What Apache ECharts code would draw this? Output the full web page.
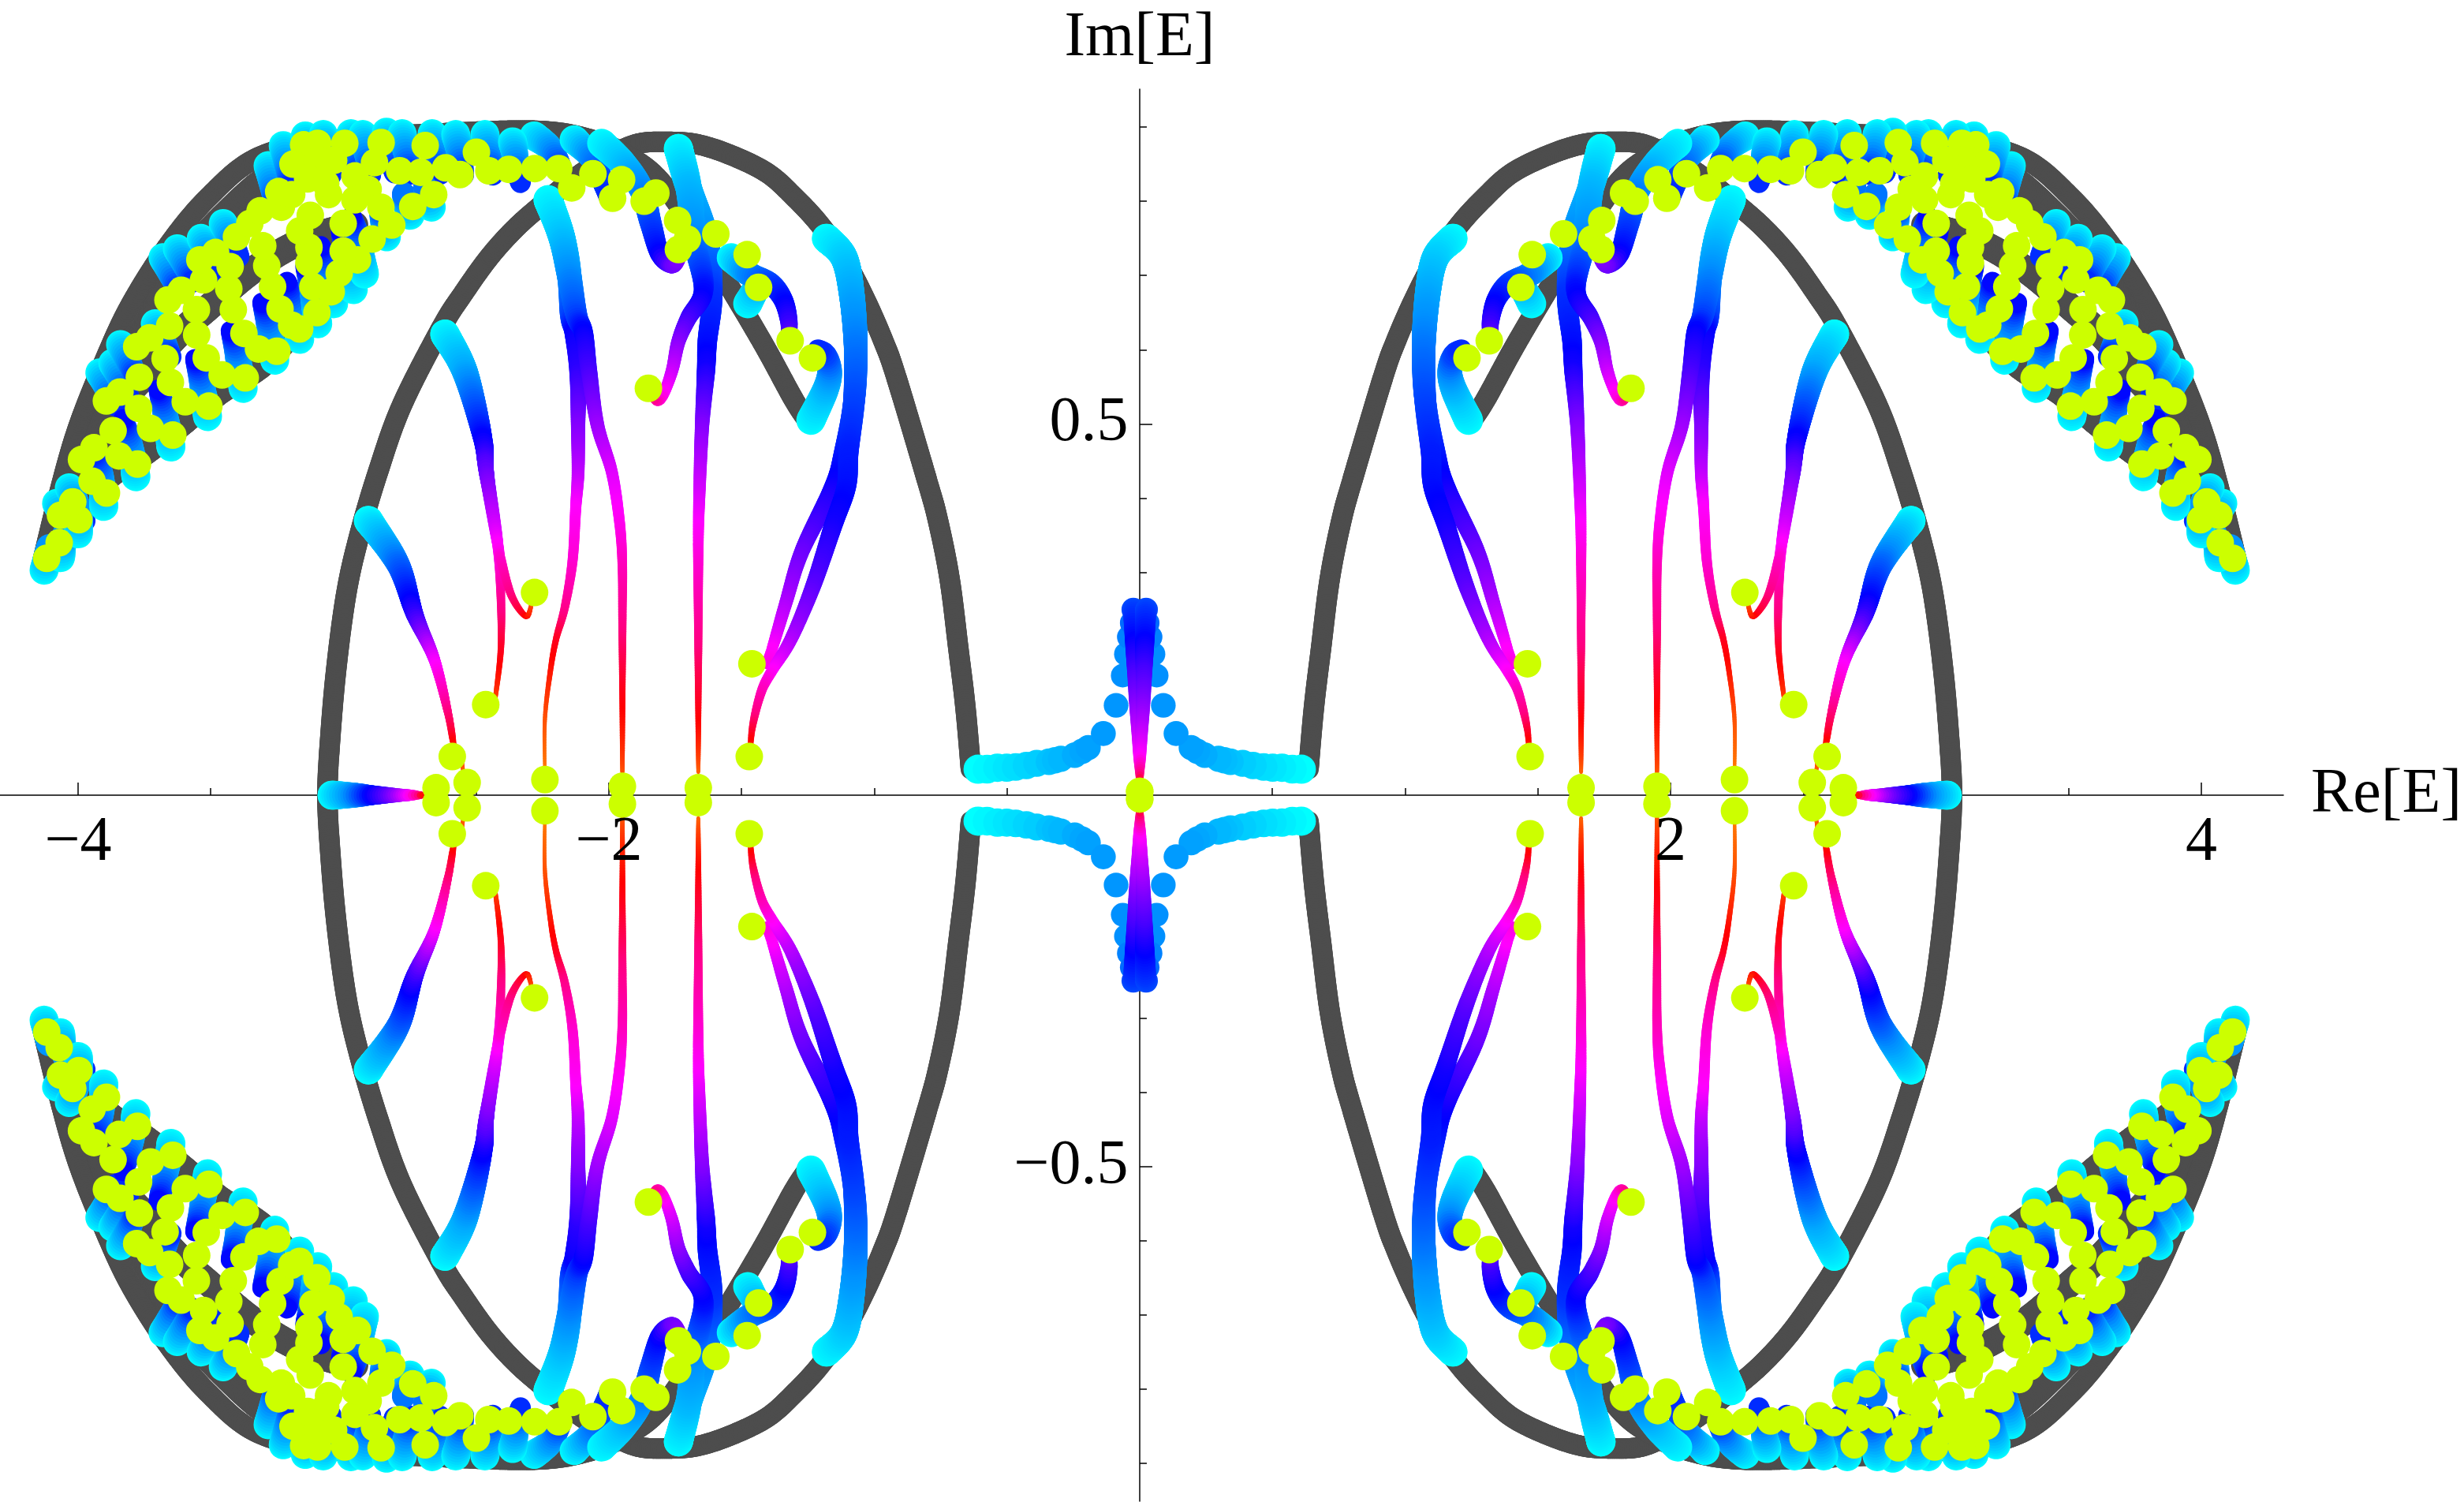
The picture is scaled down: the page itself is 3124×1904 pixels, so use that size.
<!DOCTYPE html>
<html><head><meta charset="utf-8">
<style>html,body{margin:0;padding:0;background:#fff}#c{width:3124px;height:1904px}</style>
<script src="https://cdn.jsdelivr.net/npm/echarts@6/dist/echarts.min.js"></script>
</head><body><div id="c"></div>
<script>
const xMajor=[-4,-2,2,4];
const xMinor=[-3.5,-3,-2.5,-1.5,-1,-0.5,0.5,1,1.5,2.5,3,3.5];
const yMajor=[-0.5,0.5];
const yMinor=[-0.9,-0.8,-0.7,-0.6,-0.4,-0.3,-0.2,-0.1,0.1,0.2,0.3,0.4,0.6,0.7,0.8,0.9];
const innerArc=[[-3.061,0],[-3.055,.05],[-3.03,.16],[-2.99,.27],[-2.94,.35],[-2.87,.435],[-2.78,.525],[-2.63,.63],[-2.550,.675],[-2.452,.724],[-2.354,.763],[-2.253,.795],[-2.125,.832],[-2.006,.859],[-1.896,.877],[-1.789,.880],[-1.670,.877],[-1.539,.862],[-1.403,.838],[-1.302,.806],[-1.204,.768],[-1.114,.722],[-1.036,.669],[-.966,.612],[-.917,.563],[-.802,.425],[-.76,.37],[-.716,.291],[-.683,.197],[-.657,.12],[-.636,.035]];
const outerArc=[[-4.134,.315],[-4.071,.407],[-4.003,.492],[-3.911,.576],[-3.807,.657],[-3.661,.740],[-3.507,.806],[-3.322,.859],[-3.046,.882],[-2.660,.891],[-2.273,.895],[-2.065,.883],[-1.932,.862],[-1.813,.830],[-1.679,.763],[-1.539,.681],[-1.412,.604],[-1.302,.532],[-1.248,.503]];
const backArc1=[[-4.071,.349],[-3.908,.423],[-3.738,.465],[-3.611,.501],[-3.471,.543],[-3.313,.579],[-3.189,.625],[-3.076,.662]];
const backArc2=[[-3.938,.434],[-3.869,.515],[-3.759,.561],[-3.640,.614],[-3.492,.662],[-3.349,.705],[-3.215,.736],[-3.085,.756],[-2.957,.768]];
const backArc3=[[-3.997,.391],[-3.929,.476],[-3.837,.560],[-3.730,.641],[-3.596,.721],[-3.438,.784],[-3.269,.835],[-3.076,.859]];
// curves: [Re, Im, parameter] with parameter running 0 (cyan end) to 1 (orange end)
const curveA1=[[-2.229,.802,0],[-2.178,.752,.1],[-2.149,.699,.2],[-2.143,.646,.3],[-2.131,.622,.4],[-2.116,.569,.45],[-2.116,.497,.55],[-2.116,.434,.62],[-2.125,.386,.7],[-2.137,.315,.75],[-2.166,.253,.83],[-2.199,.210,.9],[-2.220,.168,.93],[-2.241,.102,.97],[-2.241,.026,1]];
const curveA2=[[-2.229,.802,0],[-2.178,.752,.1],[-2.149,.699,.2],[-2.122,.646,.3],[-2.095,.622,.4],[-2.074,.569,.48],[-2.042,.497,.58],[-1.988,.434,.66],[-1.958,.362,.72],[-1.949,.306,.78],[-1.949,.243,.83],[-1.949,.149,.9],[-1.949,.031,.97]];
const curveB1=[[-1.738,.871,0],[-1.700,.819,.12],[-1.679,.752,.2],[-1.643,.681,.38],[-1.700,.643,.47],[-1.738,.611,.55],[-1.762,.572,.63],[-1.798,.537,.72],[-1.822,.531,.8],[-1.845,.543,.9]];
const curveB2=[[-1.738,.871,0],[-1.700,.819,.12],[-1.634,.752,.2],[-1.611,.675,.33],[-1.629,.611,.38],[-1.634,.572,.42],[-1.649,.497,.55],[-1.658,.416,.64],[-1.663,.339,.72],[-1.663,.197,.85],[-1.663,.031,.98]];
const curveC1=[[-2.027,.878,0],[-1.947,.851,.1],[-1.878,.816,.2],[-1.842,.770,.3],[-1.807,.728,.4],[-1.762,.713,.52],[-1.738,.721,.55]];
const curveC2=[[-2.131,.883,0],[-2.065,.859,.2],[-2.027,.830,.3],[-2.000,.806,.35]];
const curveC3=[[-2.282,.888,0],[-2.223,.872,.15],[-2.184,.848,.3]];
const curveD1=[[-1.539,.724,0],[-1.471,.702,.2],[-1.391,.689,.3],[-1.343,.667,.38],[-1.322,.639,.45],[-1.322,.620,.5]];
const curveD2=[[-1.477,.662,0],[-1.441,.685,.12]];
const curveE=[[-1.239,.505,0],[-1.183,.547,.12],[-1.168,.572,.2],[-1.183,.593,.3],[-1.212,.600,.35]];
const curveF1=[[-1.180,.750,0],[-1.114,.724,.08],[-1.085,.675,.15],[-1.070,.604,.23],[-1.076,.532,.3],[-1.114,.462,.36],[-1.153,.416,.41],[-1.272,.329,.52],[-1.334,.258,.6],[-1.385,.197,.7],[-1.406,.177,.73]];
const curveF2=[[-1.180,.750,0],[-1.114,.724,.08],[-1.085,.675,.15],[-1.070,.604,.23],[-1.076,.532,.3],[-1.097,.462,.36],[-1.105,.416,.38],[-1.156,.362,.42],[-1.230,.282,.5],[-1.314,.210,.6],[-1.385,.168,.7],[-1.426,.139,.78],[-1.459,.092,.88],[-1.468,.054,.97]];
const curveG1=[[-2.618,.621,0],[-2.541,.569,.15],[-2.475,.480,.4],[-2.461,.434,.52],[-2.419,.339,.7],[-2.407,.268,.82],[-2.407,.197,.9],[-2.428,.130,.96]];
const curveG2=[[-2.618,.621,0],[-2.541,.569,.15],[-2.475,.480,.4],[-2.461,.434,.52],[-2.419,.339,.7],[-2.407,.317,.76],[-2.366,.268,.85],[-2.312,.241,.92],[-2.291,.258,.97]];
const curveH1=[[-2.906,.370,0],[-2.793,.310,.25],[-2.731,.243,.45],[-2.657,.182,.68],[-2.606,.111,.85],[-2.585,.068,.93],[-2.591,.049,.97]];
const curveH2=[[-2.906,.370,0],[-2.793,.310,.25],[-2.731,.243,.45],[-2.657,.182,.68],[-2.606,.111,.85],[-2.585,.068,.93],[-2.559,.054,.95],[-2.544,.016,1]];
const curveI=[[-3.043,0,0],[-2.957,0,.2],[-2.886,0,.4],[-2.808,0,.55],[-2.749,0,.7],[-2.698,0,.95]];
const stem=[[-.023,.250,.3],[-.019,.205,.4],[-.016,.165,.48],[-.013,.124,.55],[-.007,.083,.63],[-.003,.051,.7],[-.001,.027,.85],[0,.002,1]];
const lowerPetals=[
[[-4.128,.303,0],[-4.110,.335,.2]],
[[-4.066,.320,0],[-4.050,.352,.2]],
[[-3.999,.352,0],[-3.990,.385,.2]],
[[-3.903,.389,0],[-3.915,.435,.2],[-3.940,.460,.35]],
[[-3.782,.429,0],[-3.806,.477,.2],[-3.830,.507,.4]],
[[-3.650,.469,0],[-3.674,.517,.2],[-3.698,.547,.4]],
[[-3.512,.510,0],[-3.536,.558,.2],[-3.560,.588,.4]],
[[-3.378,.548,0],[-3.402,.596,.2],[-3.426,.626,.4]],
[[-3.259,.586,0],[-3.283,.634,.2],[-3.307,.664,.4]],
[[-3.165,.614,0],[-3.189,.662,.2],[-3.213,.692,.4]],
[[-3.097,.635,0],[-3.121,.683,.2],[-3.145,.713,.4]],
[[-3.037,.662,0],[-3.061,.710,.2],[-3.085,.740,.4]],
[[-2.963,.681,0],[-2.987,.729,.2],[-3.011,.759,.4]],
[[-2.921,.702,0],[-2.945,.750,.2],[-2.969,.780,.4]],
[[-2.838,.752,0],[-2.862,.790,.3]],
[[-2.749,.781,0],[-2.773,.810,.25]],
[[-2.669,.792,0],[-2.693,.820,.25]]];
const upperPetals=[
[[-4.081,.393,0],[-4.021,.348,.35]],
[[-4.033,.414,0],[-3.973,.369,.35]],
[[-3.918,.569,0],[-3.858,.524,.35]],
[[-3.869,.582,0],[-3.809,.537,.35]],
[[-3.840,.607,0],[-3.780,.562,.35]],
[[-3.709,.635,0],[-3.649,.590,.35]],
[[-3.680,.724,0],[-3.620,.679,.35]],
[[-3.626,.736,0],[-3.566,.691,.35]],
[[-3.536,.750,0],[-3.476,.705,.35]],
[[-3.453,.770,0],[-3.393,.725,.35]],
[[-3.284,.848,0],[-3.254,.793,.35]],
[[-3.227,.875,0],[-3.197,.820,.35]],
[[-3.144,.888,0],[-3.114,.833,.35]],
[[-3.076,.890,0],[-3.046,.835,.35]],
[[-2.972,.891,0],[-2.942,.836,.35]],
[[-2.927,.890,0],[-2.897,.835,.35]],
[[-2.838,.893,0],[-2.808,.838,.35]],
[[-2.779,.891,0],[-2.749,.836,.35]],
[[-2.666,.891,0],[-2.636,.836,.35]],
[[-2.577,.890,0],[-2.547,.835,.35]],
[[-2.467,.890,0],[-2.437,.835,.35]],
[[-2.363,.880,0],[-2.333,.825,.35]]];
const crossDots=[[-.609,.035,0],[-.575,.035,.015],[-.536,.037,.03],[-.501,.037,.045],[-.467,.038,.06],[-.427,.040,.075],[-.388,.043,.09],[-.342,.045,.11],[-.319,.047,.12],[-.297,.049,.13],[-.245,.054,.15],[-.217,.059,.16],[-.194,.064,.17],[-.137,.083,.18],[-.089,.121,.19],[-.064,.161,.2],[-.052,.190,.2],[-.041,.213,.22],[-.030,.232,.25],[-.024,.250,.3]];
const endpoints=[[-4.118,.319],[-4.071,.340],[-4.066,.377],[-3.997,.371],[-4.020,.395],[-3.947,.423],[-3.893,.407],[-3.987,.452],[-3.940,.468],[-3.868,.491],[-3.846,.457],[-3.776,.446],[-3.893,.531],[-3.842,.543],[-3.769,.563],[-3.772,.521],[-3.727,.494],[-3.643,.485],[-3.652,.556],[-3.596,.530],[-3.507,.524],[-3.672,.588],[-3.779,.604],[-3.730,.616],[-3.655,.632],[-3.517,.589],[-3.457,.566],[-3.370,.562],[-3.553,.620],[-3.554,.654],[-3.415,.654],[-3.375,.622],[-3.320,.601],[-3.251,.598],[-3.239,.655],[-3.195,.633],[-3.661,.667],[-3.611,.680],[-3.527,.694],[-3.432,.682],[-3.267,.685],[-3.165,.628],[-3.100,.650],[-3.115,.685],[-3.046,.678],[-3.016,.703],[-2.947,.721],[-3.001,.733],[-3.130,.717],[-3.130,.738],[-3.165,.760],[-3.289,.713],[-3.304,.740],[-3.427,.712],[-3.482,.731],[-3.541,.721],[-3.403,.752],[-3.353,.770],[-3.314,.787],[-3.234,.792],[-3.125,.781],[-3.001,.770],[-2.892,.749],[-2.818,.768],[-2.739,.793],[-3.150,.876],[-3.097,.878],[-2.995,.878],[-2.858,.879],[-2.692,.875],[-3.190,.850],[-3.244,.813],[-3.100,.855],[-3.037,.855],[-2.883,.852],[-2.957,.834],[-2.788,.841],[-2.709,.839],[-2.615,.845],[-2.561,.836],[-2.499,.866],[-2.452,.841],[-2.377,.843],[-2.279,.844],[-2.189,.844],[-2.660,.809],[-3.056,.809],[-3.135,.830],[-3.195,.809],[-2.907,.816],[-2.859,.792],[-2.957,.802],[-3.067,.824],[-2.140,.818],[-2.060,.837],[-1.952,.829],[-1.986,.804],[-1.823,.811],[-1.867,.800],[-1.741,.774],[-1.704,.749],[-1.738,.735],[-1.597,.756],[-1.479,.728],[-1.436,.684],[-1.317,.612],[-1.233,.589],[-1.851,.548],[-2.280,.273],[-2.464,.122],[-1.461,.177],[-1.471,.052],[-2.590,.052],[-2.534,.017],[-2.651,.010],[-2.241,.021],[-1.949,.012],[-1.663,.010],[0,.005]];

const flips=[[1,1],[-1,1],[1,-1],[-1,-1]];
const flip=(p,f)=>{const q=p.slice();q[0]=p[0]*f[0];q[1]=p[1]*f[1];return q;};
const curveList=[curveI,curveH1,curveH2,curveG1,curveG2,curveA1,curveA2,curveB2,curveB1,curveF1,curveF2,curveE,curveD2,curveD1,curveC3,curveC2,curveC1,...upperPetals,...lowerPetals,stem];
const curveRows=[];let cid=0;
flips.forEach(f=>curveList.forEach(c=>{cid++;c.forEach(p=>{const q=flip(p,f);curveRows.push([q[0],q[1],q[2],cid]);});}));
const arcRows=[];
flips.forEach(f=>[[innerArc,-1],[outerArc,-1],[backArc1,-2],[backArc2,-2],[backArc3,-2]].forEach(([c,k])=>{cid++;c.forEach(p=>{const q=flip(p,f);arcRows.push([q[0],q[1],k,cid]);});}));
const dotRows=[];flips.forEach(f=>crossDots.forEach(p=>dotRows.push(flip(p,f))));
const lemonRows=[];flips.forEach(f=>endpoints.forEach(p=>lemonRows.push(flip(p,f))));
const xTickRows=xMajor.map(v=>[v,0]);
const yTickRows=yMajor.map(v=>[0,v]);

const colorStops=[[0,[0,255,255]],[.2,[0,144,255]],[.4,[0,0,255]],[.55,[128,0,255]],[.7,[255,0,255]],[.85,[255,0,128]],[.92,[255,0,0]],[1,[255,128,0]]];
const sizeStops=[[0,37],[.2,31],[.4,24],[.55,18],[.7,14],[.85,10],[.9,8],[1,4]];
function lerpStops(st,w){for(let i=1;i<st.length;i++){if(w<=st[i][0]){const t=(w-st[i-1][0])/(st[i][0]-st[i-1][0]);return [st[i-1][1],st[i][1],t];}}const l=st[st.length-1][1];return [l,l,0];}
function colorOf(w){if(w<0)return '#4d4d4d';const [a,b,t]=lerpStops(colorStops,w);return 'rgb('+a.map((v,i)=>Math.round(v+(b[i]-v)*t)).join(',')+')';}
function sizeOf(w){if(w<0)return w<-1.5?34:26;const [a,b,t]=lerpStops(sizeStops,w);return a+(b-a)*t;}

function renderCurve(params,api){
  const i=params.dataIndexInside,n=params.dataInsideLength;
  const cur=api.value(3,i);
  if(i+1>=n||api.value(3,i+1)!==cur) return {type:'group',children:[]};
  const pt=k=>api.coord([api.value(0,k),api.value(1,k)]);
  const p1=pt(i),p2=pt(i+1);
  const p0=(i>0&&api.value(3,i-1)===cur)?pt(i-1):p1;
  const p3=(i+2<n&&api.value(3,i+2)===cur)?pt(i+2):p2;
  const w1=api.value(2,i),w2=api.value(2,i+1);
  const len=Math.hypot(p2[0]-p1[0],p2[1]-p1[1]);
  const steps=Math.max(2,Math.ceil(len/3));
  const kids=[];let prev=p1;
  for(let s=1;s<=steps;s++){
    const t=s/steps,t2=t*t,t3=t2*t;
    const q=[0,1].map(d=>.5*(2*p1[d]+(p2[d]-p0[d])*t+(2*p0[d]-5*p1[d]+4*p2[d]-p3[d])*t2+(3*p1[d]-p0[d]-3*p2[d]+p3[d])*t3));
    const w=w1+(w2-w1)*(t-.5/steps);
    kids.push({type:'line',silent:true,shape:{x1:prev[0],y1:prev[1],x2:q[0],y2:q[1]},style:{stroke:colorOf(w),lineWidth:sizeOf(w),lineCap:'round'}});
    prev=q;
  }
  return {type:'group',children:kids};
}

const serif='"Liberation Serif","DejaVu Serif",serif';
const xRange={min:-4.294,max:4.309},yRange={min:-.951,max:.951};
const axisLine={onZero:true,lineStyle:{color:'#000',width:1.5}};
const tickStyle={color:'#000',width:1.5};
const tickText={fontFamily:serif,fontSize:80,color:'#000'};
const fmtX=p=>String(p.data[0]).replace('-','\u2212');
const fmtY=p=>String(p.data[1]).replace('-','\u2212');
const clearDot={color:'rgba(0,0,0,0)',opacity:1};
const series=[];
series.push({type:'scatter',z:5,data:xTickRows,silent:true,symbolSize:1,itemStyle:clearDot,label:{show:true,position:'bottom',distance:20,formatter:fmtX,opacity:1,...tickText}});
series.push({type:'scatter',z:5,data:yTickRows,silent:true,symbolSize:1,itemStyle:clearDot,label:{show:true,position:'left',distance:14,formatter:fmtY,opacity:1,...tickText}});
series.push({type:'custom',z:1,coordinateSystem:'cartesian2d',dimensions:['x','y','w','curve'],encode:{x:0,y:1},data:arcRows,renderItem:renderCurve,silent:true,clip:false});
series.push({type:'scatter',z:2,data:dotRows,silent:true,symbolSize:v=>v[2]<.2?sizeOf(v[2]):30,itemStyle:{color:p=>colorOf(p.data[2]),opacity:1}});
series.push({type:'custom',z:3,coordinateSystem:'cartesian2d',dimensions:['x','y','w','curve'],encode:{x:0,y:1},data:curveRows,renderItem:renderCurve,silent:true,clip:false});
series.push({type:'scatter',z:4,data:lemonRows,silent:true,symbolSize:35,itemStyle:{color:'#ccff00',opacity:1}});

const chart=echarts.init(document.getElementById('c'),null,{renderer:'canvas',width:3124,height:1904});
chart.setOption({
  animation:false,backgroundColor:'#fff',
  grid:{left:0,right:229,top:113,bottom:1,containLabel:false,outerBoundsMode:'none'},
  xAxis:[
    {type:'value',position:'bottom',...xRange,name:'Re[E]',nameLocation:'end',nameGap:35,nameTextStyle:{...tickText,padding:[4,0,0,0]},
     axisLine,splitLine:{show:false},axisTick:{show:true,inside:true,length:16,lineStyle:tickStyle,customValues:xMajor},
     axisLabel:{show:false}},
    {type:'value',position:'top',...xRange,axisLine:{show:false,onZero:true},splitLine:{show:false},
     axisTick:{show:true,inside:false,length:9,lineStyle:tickStyle,customValues:xMinor},axisLabel:{show:false}}
  ],
  yAxis:[
    {type:'value',position:'left',...yRange,name:'Im[E]',nameLocation:'end',nameGap:24,nameTextStyle:tickText,
     axisLine,splitLine:{show:false},axisTick:{show:true,inside:true,length:16,lineStyle:tickStyle,customValues:yMajor},
     axisLabel:{show:false}},
    {type:'value',position:'right',...yRange,axisLine:{show:false,onZero:true},splitLine:{show:false},
     axisTick:{show:true,inside:false,length:9,lineStyle:tickStyle,customValues:yMinor},axisLabel:{show:false}}
  ],
  series
});
</script></body></html>
